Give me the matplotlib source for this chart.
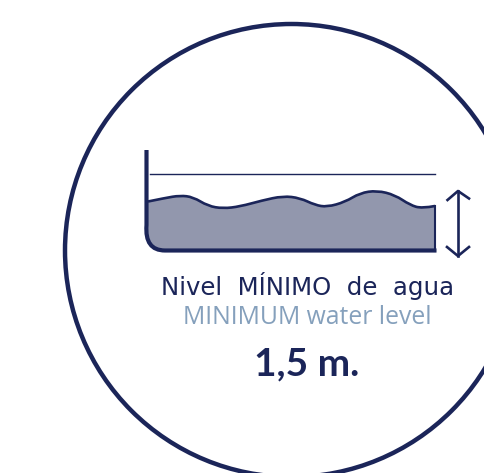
import matplotlib
matplotlib.use("Agg")
import matplotlib.pyplot as plt
from matplotlib.patches import Circle, PathPatch
from matplotlib.path import Path

NAVY = "#1b2559"
FILL = "#9297ad"
BLUE = "#85a0bc"

# water surface (pixels), used as spline control points
wave_x = [148, 165, 180, 193, 208, 223, 240, 262, 283, 300, 315, 327, 345, 360, 377, 395, 410, 422, 435]
wave_y = [201.5, 198, 195.5, 197, 206, 208.5, 206.5, 200.5, 196, 198, 205, 207, 202, 193, 190.5, 195, 205, 208.5, 206]
tank_left = 146.5
tank_right = 434.5
tank_top = 150
tank_floor = 250.5
full_level = 174


def wave_path(xs, ys):
    # quadratic segments through the midpoints, so the surface comes out smooth
    verts = [(xs[0], ys[0])]
    codes = [Path.MOVETO]
    for i in range(1, len(xs) - 1):
        verts.append((xs[i], ys[i]))
        codes.append(Path.CURVE3)
        if i < len(xs) - 2:
            verts.append(((xs[i] + xs[i + 1]) / 2, (ys[i] + ys[i + 1]) / 2))
        else:
            verts.append((xs[i + 1], ys[i + 1]))
        codes.append(Path.CURVE3)
    return verts, codes


fig = plt.figure(figsize=(4.84, 4.73), dpi=100)
ax = fig.add_axes([0, 0, 1, 1])
ax.set_xlim(0, 484)
ax.set_ylim(473, 0)
ax.axis("off")

ax.add_patch(Circle((291.5, 250.5), 226.5, fill=False, ec=NAVY, lw=3.2))

# water
verts, codes = wave_path(wave_x, wave_y)
fill_verts = verts + [(tank_right, tank_floor), (163, tank_floor), (145, tank_floor), (tank_left, 225), (tank_left, wave_y[0])]
fill_codes = codes + [Path.LINETO, Path.LINETO, Path.CURVE3, Path.CURVE3, Path.LINETO]
ax.add_patch(PathPatch(Path(fill_verts, fill_codes), fc=FILL, ec="none"))
ax.add_patch(PathPatch(Path(verts, codes), fill=False, ec=NAVY, lw=1.9))
ax.plot([tank_right, tank_right], [wave_y[-1], tank_floor], color=NAVY, lw=1.5)

# tank wall and floor
wall = [(tank_left, tank_top), (tank_left, 225), (tank_left - 2, tank_floor), (165, tank_floor), (tank_right + 2, tank_floor)]
wall_codes = [Path.MOVETO, Path.LINETO, Path.CURVE3, Path.CURVE3, Path.LINETO]
ax.add_patch(PathPatch(Path(wall, wall_codes), fill=False, ec=NAVY, lw=3, capstyle="butt"))
ax.plot([150, tank_right], [full_level, full_level], color=NAVY, lw=1)

# double arrow
ax.plot([458, 458], [191, 256], color=NAVY, lw=1.9)
ax.plot([447.5, 458, 469], [200, 191, 198.5], color=NAVY, lw=1.9)
ax.plot([447, 458, 469], [247, 256, 247], color=NAVY, lw=1.9)

ax.text(307.5, 285.5, "Nivel  MÍNIMO  de  agua", color=NAVY, fontsize=17.6, family="DejaVu Sans",
        ha="center", va="center")
ax.text(307, 317, "MINIMUM water level", color=BLUE, fontsize=17.8, family="Open Sans", ha="center", va="center")
ax.text(307, 364, "1,5 m.", color=NAVY, fontsize=28, family="Lato", weight="bold", ha="center", va="center")

fig.savefig("out.png", dpi=100)
